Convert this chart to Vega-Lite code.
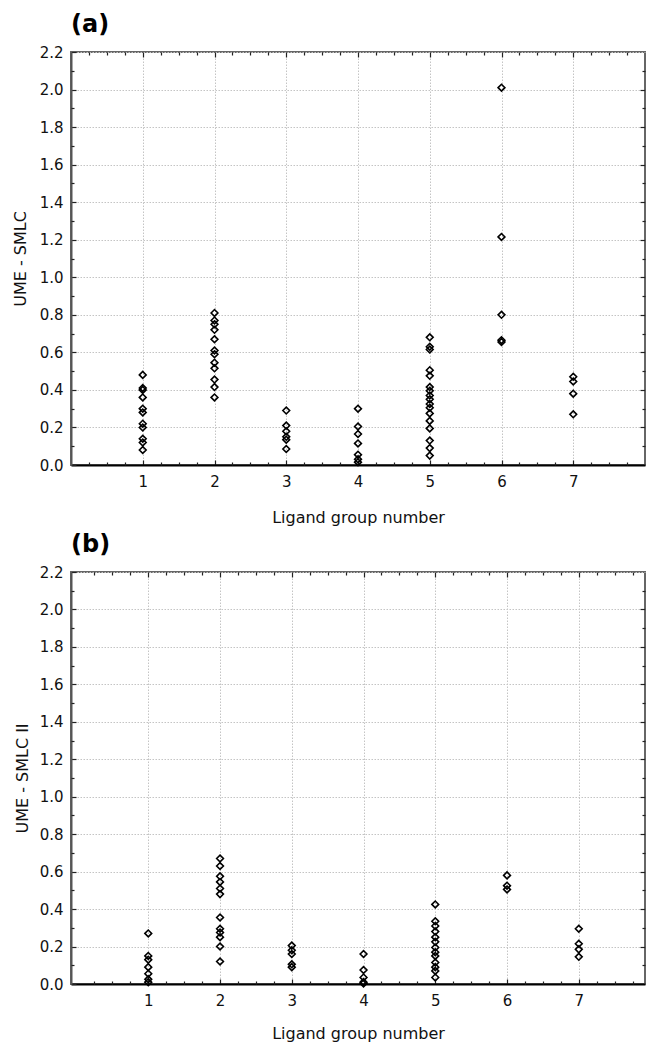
{
  "$schema": "https://vega.github.io/schema/vega-lite/v6.json",
  "background": "white",
  "padding": {"top": 12, "left": 11, "right": 0, "bottom": 0},
  "config": {
    "font": "DejaVu Sans",
    "view": {"stroke": "#666666", "strokeWidth": 2},
    "axis": {"labelFont": "DejaVu Sans", "labelFontSize": 15, "labelColor": "#111111", "titleFont": "DejaVu Sans", "titleFontSize": 16, "titleFontWeight": "normal", "titleColor": "#111111", "tickColor": "#222222", "tickWidth": 1.2, "gridColor": "#c4c4c4", "gridDash": [1.5, 1.5], "gridWidth": 1},
    "title": {"font": "DejaVu Sans", "fontSize": 24, "fontWeight": "bold", "color": "#000000", "anchor": "start", "frame": "group", "offset": 8}
  },
  "datasets": {
    "a": [
      {"g": 1, "v": 0.48}, {"g": 1, "v": 0.41}, {"g": 1, "v": 0.40}, {"g": 1, "v": 0.36}, {"g": 1, "v": 0.30}, {"g": 1, "v": 0.28}, {"g": 1, "v": 0.22}, {"g": 1, "v": 0.20}, {"g": 1, "v": 0.14}, {"g": 1, "v": 0.12}, {"g": 1, "v": 0.08},
      {"g": 2, "v": 0.81}, {"g": 2, "v": 0.77}, {"g": 2, "v": 0.75}, {"g": 2, "v": 0.72}, {"g": 2, "v": 0.67}, {"g": 2, "v": 0.61}, {"g": 2, "v": 0.59}, {"g": 2, "v": 0.545}, {"g": 2, "v": 0.515}, {"g": 2, "v": 0.455}, {"g": 2, "v": 0.415}, {"g": 2, "v": 0.36},
      {"g": 3, "v": 0.29}, {"g": 3, "v": 0.21}, {"g": 3, "v": 0.18}, {"g": 3, "v": 0.15}, {"g": 3, "v": 0.135}, {"g": 3, "v": 0.085},
      {"g": 4, "v": 0.30}, {"g": 4, "v": 0.205}, {"g": 4, "v": 0.165}, {"g": 4, "v": 0.115}, {"g": 4, "v": 0.055}, {"g": 4, "v": 0.03}, {"g": 4, "v": 0.015},
      {"g": 5, "v": 0.68}, {"g": 5, "v": 0.63}, {"g": 5, "v": 0.615}, {"g": 5, "v": 0.505}, {"g": 5, "v": 0.475}, {"g": 5, "v": 0.415}, {"g": 5, "v": 0.395}, {"g": 5, "v": 0.37}, {"g": 5, "v": 0.35}, {"g": 5, "v": 0.325}, {"g": 5, "v": 0.305}, {"g": 5, "v": 0.275}, {"g": 5, "v": 0.235}, {"g": 5, "v": 0.195}, {"g": 5, "v": 0.13}, {"g": 5, "v": 0.09}, {"g": 5, "v": 0.05},
      {"g": 6, "v": 2.01}, {"g": 6, "v": 1.215}, {"g": 6, "v": 0.80}, {"g": 6, "v": 0.665}, {"g": 6, "v": 0.655},
      {"g": 7, "v": 0.47}, {"g": 7, "v": 0.445}, {"g": 7, "v": 0.38}, {"g": 7, "v": 0.27}
    ],
    "b": [
      {"g": 1, "v": 0.27}, {"g": 1, "v": 0.15}, {"g": 1, "v": 0.13}, {"g": 1, "v": 0.09}, {"g": 1, "v": 0.055}, {"g": 1, "v": 0.025}, {"g": 1, "v": 0.01},
      {"g": 2, "v": 0.67}, {"g": 2, "v": 0.63}, {"g": 2, "v": 0.575}, {"g": 2, "v": 0.545}, {"g": 2, "v": 0.51}, {"g": 2, "v": 0.48}, {"g": 2, "v": 0.355}, {"g": 2, "v": 0.295}, {"g": 2, "v": 0.275}, {"g": 2, "v": 0.25}, {"g": 2, "v": 0.20}, {"g": 2, "v": 0.12},
      {"g": 3, "v": 0.205}, {"g": 3, "v": 0.18}, {"g": 3, "v": 0.16}, {"g": 3, "v": 0.105}, {"g": 3, "v": 0.09},
      {"g": 4, "v": 0.16}, {"g": 4, "v": 0.075}, {"g": 4, "v": 0.035}, {"g": 4, "v": 0.01}, {"g": 4, "v": 0.003},
      {"g": 5, "v": 0.425}, {"g": 5, "v": 0.335}, {"g": 5, "v": 0.31}, {"g": 5, "v": 0.28}, {"g": 5, "v": 0.25}, {"g": 5, "v": 0.225}, {"g": 5, "v": 0.195}, {"g": 5, "v": 0.17}, {"g": 5, "v": 0.15}, {"g": 5, "v": 0.115}, {"g": 5, "v": 0.09}, {"g": 5, "v": 0.07}, {"g": 5, "v": 0.035},
      {"g": 6, "v": 0.58}, {"g": 6, "v": 0.525}, {"g": 6, "v": 0.505},
      {"g": 7, "v": 0.295}, {"g": 7, "v": 0.215}, {"g": 7, "v": 0.185}, {"g": 7, "v": 0.145}
    ]
  },
  "concat": [
    {
      "title": {"text": "(a)"},
      "width": 574,
      "height": 413,
      "data": {"name": "a"},
      "layer": [
        {
          "mark": {"type": "point", "shape": "diamond", "filled": false, "size": 46, "stroke": "#000000", "strokeWidth": 1.6, "opacity": 1},
          "encoding": {
            "x": {"field": "g", "type": "quantitative", "scale": {"domain": [0, 8], "nice": false, "zero": false},
                  "axis": {"orient": "bottom", "values": [1, 2, 3, 4, 5, 6, 7], "format": "d", "title": "Ligand group number", "grid": true, "tickSize": -5, "labelPadding": 14, "titlePadding": 20, "domainColor": "#000000", "domainWidth": 2}},
            "y": {"field": "v", "type": "quantitative", "scale": {"domain": [0, 2.2], "nice": false, "zero": false},
                  "axis": {"orient": "left", "values": [0, 0.2, 0.4, 0.6, 0.8, 1.0, 1.2, 1.4, 1.6, 1.8, 2.0, 2.2], "format": ".1f", "title": "UME - SMLC", "grid": true, "tickSize": -5, "labelPadding": 13, "titlePadding": 11, "domainColor": "#555555", "domainWidth": 2}}
          }
        },
        {
          "mark": {"type": "point", "opacity": 0},
          "encoding": {
            "x": {"field": "g", "type": "quantitative", "scale": {"domain": [0, 8], "nice": false, "zero": false},
                  "axis": {"orient": "bottom", "values": [0.25, 0.5, 0.75, 1.25, 1.5, 1.75, 2.25, 2.5, 2.75, 3.25, 3.5, 3.75, 4.25, 4.5, 4.75, 5.25, 5.5, 5.75, 6.25, 6.5, 6.75, 7.25, 7.5, 7.75], "labels": false, "title": null, "grid": false, "domain": false, "tickSize": -3}},
            "y": {"field": "v", "type": "quantitative", "scale": {"domain": [0, 2.2], "nice": false, "zero": false},
                  "axis": {"orient": "left", "values": [0.1, 0.3, 0.5, 0.7, 0.9, 1.1, 1.3, 1.5, 1.7, 1.9, 2.1], "labels": false, "title": null, "grid": false, "domain": false, "tickSize": -3}}
          }
        },
        {
          "mark": {"type": "point", "opacity": 0},
          "encoding": {
            "x": {"field": "g", "type": "quantitative", "scale": {"domain": [0, 8], "nice": false, "zero": false},
                  "axis": {"orient": "top", "values": [1, 2, 3, 4, 5, 6, 7], "labels": false, "title": null, "grid": false, "domain": false, "tickSize": -5}},
            "y": {"field": "v", "type": "quantitative", "scale": {"domain": [0, 2.2], "nice": false, "zero": false},
                  "axis": {"orient": "right", "values": [0.2, 0.4, 0.6, 0.8, 1.0, 1.2, 1.4, 1.6, 1.8, 2.0], "labels": false, "title": null, "grid": false, "domain": false, "tickSize": -5}}
          }
        },
        {
          "mark": {"type": "point", "opacity": 0},
          "encoding": {
            "x": {"field": "g", "type": "quantitative", "scale": {"domain": [0, 8], "nice": false, "zero": false},
                  "axis": {"orient": "top", "values": [0.25, 0.5, 0.75, 1.25, 1.5, 1.75, 2.25, 2.5, 2.75, 3.25, 3.5, 3.75, 4.25, 4.5, 4.75, 5.25, 5.5, 5.75, 6.25, 6.5, 6.75, 7.25, 7.5, 7.75], "labels": false, "title": null, "grid": false, "domain": false, "tickSize": -3}},
            "y": {"field": "v", "type": "quantitative", "scale": {"domain": [0, 2.2], "nice": false, "zero": false},
                  "axis": {"orient": "right", "values": [0.1, 0.3, 0.5, 0.7, 0.9, 1.1, 1.3, 1.5, 1.7, 1.9, 2.1], "labels": false, "title": null, "grid": false, "domain": false, "tickSize": -3}}
          }
        }
      ],
      "resolve": {"axis": {"x": "independent", "y": "independent"}}
    },
    {
      "title": {"text": "(b)"},
      "width": 574,
      "height": 412,
      "data": {"name": "b"},
      "layer": [
        {
          "mark": {"type": "point", "shape": "diamond", "filled": false, "size": 46, "stroke": "#000000", "strokeWidth": 1.6, "opacity": 1},
          "encoding": {
            "x": {"field": "g", "type": "quantitative", "scale": {"domain": [-0.077, 7.923], "nice": false, "zero": false},
                  "axis": {"orient": "bottom", "values": [1, 2, 3, 4, 5, 6, 7], "format": "d", "title": "Ligand group number", "grid": true, "tickSize": -5, "labelPadding": 14, "titlePadding": 17, "domainColor": "#000000", "domainWidth": 2}},
            "y": {"field": "v", "type": "quantitative", "scale": {"domain": [0, 2.2], "nice": false, "zero": false},
                  "axis": {"orient": "left", "values": [0, 0.2, 0.4, 0.6, 0.8, 1.0, 1.2, 1.4, 1.6, 1.8, 2.0, 2.2], "format": ".1f", "title": "UME - SMLC II", "grid": true, "tickSize": -5, "labelPadding": 13, "titlePadding": 9, "domainColor": "#555555", "domainWidth": 2}}
          }
        },
        {
          "mark": {"type": "point", "opacity": 0},
          "encoding": {
            "x": {"field": "g", "type": "quantitative", "scale": {"domain": [-0.077, 7.923], "nice": false, "zero": false},
                  "axis": {"orient": "bottom", "values": [0.25, 0.5, 0.75, 1.25, 1.5, 1.75, 2.25, 2.5, 2.75, 3.25, 3.5, 3.75, 4.25, 4.5, 4.75, 5.25, 5.5, 5.75, 6.25, 6.5, 6.75, 7.25, 7.5, 7.75], "labels": false, "title": null, "grid": false, "domain": false, "tickSize": -3}},
            "y": {"field": "v", "type": "quantitative", "scale": {"domain": [0, 2.2], "nice": false, "zero": false},
                  "axis": {"orient": "left", "values": [0.1, 0.3, 0.5, 0.7, 0.9, 1.1, 1.3, 1.5, 1.7, 1.9, 2.1], "labels": false, "title": null, "grid": false, "domain": false, "tickSize": -3}}
          }
        },
        {
          "mark": {"type": "point", "opacity": 0},
          "encoding": {
            "x": {"field": "g", "type": "quantitative", "scale": {"domain": [-0.077, 7.923], "nice": false, "zero": false},
                  "axis": {"orient": "top", "values": [1, 2, 3, 4, 5, 6, 7], "labels": false, "title": null, "grid": false, "domain": false, "tickSize": -5}},
            "y": {"field": "v", "type": "quantitative", "scale": {"domain": [0, 2.2], "nice": false, "zero": false},
                  "axis": {"orient": "right", "values": [0.2, 0.4, 0.6, 0.8, 1.0, 1.2, 1.4, 1.6, 1.8, 2.0], "labels": false, "title": null, "grid": false, "domain": false, "tickSize": -5}}
          }
        },
        {
          "mark": {"type": "point", "opacity": 0},
          "encoding": {
            "x": {"field": "g", "type": "quantitative", "scale": {"domain": [-0.077, 7.923], "nice": false, "zero": false},
                  "axis": {"orient": "top", "values": [0.25, 0.5, 0.75, 1.25, 1.5, 1.75, 2.25, 2.5, 2.75, 3.25, 3.5, 3.75, 4.25, 4.5, 4.75, 5.25, 5.5, 5.75, 6.25, 6.5, 6.75, 7.25, 7.5, 7.75], "labels": false, "title": null, "grid": false, "domain": false, "tickSize": -3}},
            "y": {"field": "v", "type": "quantitative", "scale": {"domain": [0, 2.2], "nice": false, "zero": false},
                  "axis": {"orient": "right", "values": [0.1, 0.3, 0.5, 0.7, 0.9, 1.1, 1.3, 1.5, 1.7, 1.9, 2.1], "labels": false, "title": null, "grid": false, "domain": false, "tickSize": -3}}
          }
        }
      ],
      "resolve": {"axis": {"x": "independent", "y": "independent"}}
    }
  ],
  "columns": 1,
  "align": "none",
  "spacing": 6
}
